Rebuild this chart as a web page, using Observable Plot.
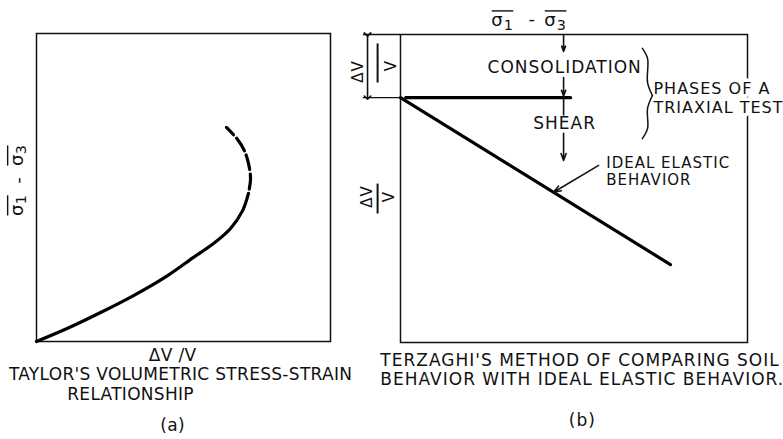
<!DOCTYPE html>
<html>
<head>
<meta charset="utf-8">
<script src="https://cdn.jsdelivr.net/npm/d3@7"></script>
<script src="https://cdn.jsdelivr.net/npm/@observablehq/plot@0.6"></script>
<style>
  body { margin: 0; background: #fff; }
  #fig { position: relative; width: 783px; height: 439px; background: #fff; overflow: hidden; }
  #fig svg { position: absolute; top: 0; }
</style>
</head>
<body>
<div id="fig"></div>
<script>
// (a) Taylor: deviator stress against volumetric strain, in relative units
const taylorStrain = [0, 0.104, 0.218, 0.330, 0.446, 0.534, 0.602, 0.660, 0.701, 0.721];
const taylorStress = [0, 0.042, 0.094, 0.149, 0.214, 0.273, 0.318, 0.367, 0.425, 0.481];
// branch past the peak of volume change, drawn dashed
const taylorStrainDashed = [0.721, 0.728, 0.721, 0.707, 0.684, 0.646];
const taylorStressDashed = [0.481, 0.529, 0.578, 0.620, 0.656, 0.695];

// (b) Terzaghi: consolidation phase, then shear with ideal elastic response
const consolidationStrain = 0.205;          // ΔV/V reached at the end of consolidation
const consolidationExtent = [0.015, 0.49];  // σ1 - σ3 span of the consolidation line
const elasticStress = [0, 0.778];
const elasticStrain = [0.205, 0.747];

const ink = "#111";
const font = "DejaVu Sans";
const fig = document.getElementById("fig");

// single text label placed in data units
const label = (t, x, y, opts = {}) =>
  Plot.text([{t, x, y}], {x: "x", y: "y", text: "t", fill: ink, fontFamily: font, fontSize: 17, ...opts});

// effective stresses: σ with a lowered index ...
function sigmaIndices(svg) {
  d3.select(svg).selectAll("text").each(function () {
    const m = /^σ(\d)$/.exec(this.textContent);
    if (!m) return;
    const t = d3.select(this).text("σ").classed("sigma", true);
    t.append("tspan").attr("dy", "0.22em").attr("font-size", "0.8em").text(m[1]);
  });
  return svg;
}
// ... and a bar over the whole symbol (needs the text laid out first)
function sigmaBars(svg) {
  d3.select(svg).selectAll("text.sigma").each(function () {
    const b = this.getBBox();
    d3.select(this.parentNode).append("line")
      .attr("transform", this.getAttribute("transform"))
      .attr("x1", b.x + 0.5).attr("x2", b.x + b.width - 0.5)
      .attr("y1", b.y + 1.5).attr("y2", b.y + 1.5)
      .attr("stroke", ink).attr("stroke-width", 1.4);
  });
}

const plotA = Plot.plot({
  width: 356, height: 439,
  marginLeft: 36, marginRight: 26, marginTop: 33, marginBottom: 98,
  x: {domain: [0, 1], axis: null},
  y: {domain: [0, 1], axis: null},
  style: {background: "transparent", fontFamily: font, letterSpacing: "0.3px"},
  marks: [
    Plot.frame({stroke: ink, strokeWidth: 1.5}),
    Plot.line(d3.zip(taylorStrain, taylorStress), {
      x: d => d[0], y: d => d[1], curve: "catmull-rom", stroke: "#000", strokeWidth: 3.2
    }),
    Plot.line(d3.zip(taylorStrainDashed, taylorStressDashed), {
      x: d => d[0], y: d => d[1], curve: "catmull-rom", stroke: "#000", strokeWidth: 3.2,
      strokeDasharray: "15,4.5", strokeDashoffset: 15
    }),
    label("σ1", -0.065, 0.442, {rotate: -90, fontSize: 18}),
    label("-", -0.062, 0.523, {rotate: -90, fontSize: 18}),
    label("σ3", -0.065, 0.604, {rotate: -90, fontSize: 18}),
    label("ΔV /V", 0.463, -0.045),
    label("TAYLOR'S VOLUMETRIC STRESS-STRAIN", 0.49, -0.107),
    label("RELATIONSHIP", 0.32, -0.172),
    label("(a)", 0.463, -0.273)
  ]
});

const plotB = Plot.plot({
  width: 443, height: 439,
  marginLeft: 60, marginRight: 36, marginTop: 34, marginBottom: 97,
  x: {domain: [0, 1], axis: null},
  y: {domain: [0, 1], reverse: true, axis: null},
  style: {background: "transparent", fontFamily: font, letterSpacing: "1px"},
  marks: [
    Plot.frame({stroke: ink, strokeWidth: 1.5}),
    // extension lines bounding the consolidation strain
    Plot.ruleY([0, consolidationStrain], {x1: -0.107, x2: 0, stroke: ink, strokeWidth: 1.3}),
    Plot.link([{y1: 0, y2: consolidationStrain}], {
      x1: -0.095, x2: -0.095, y1: "y1", y2: "y2", stroke: ink, strokeWidth: 1.6,
      markerStart: "arrow", markerEnd: "arrow"
    }),
    Plot.line(consolidationExtent.map(x => [x, consolidationStrain]), {
      x: d => d[0], y: d => d[1], stroke: "#000", strokeWidth: 3.2
    }),
    Plot.line(d3.zip(elasticStress, elasticStrain), {
      x: d => d[0], y: d => d[1], stroke: "#000", strokeWidth: 3.2
    }),
    // loading sequence arrows
    Plot.arrow([{y1: 0, y2: 0.055}, {y1: 0.14, y2: 0.2}, {y1: 0.321, y2: 0.409}], {
      x1: 0.47, x2: 0.47, y1: "y1", y2: "y2", stroke: ink, strokeWidth: 1.6, headLength: 7, headAngle: 40
    }),
    Plot.link([{y1: 0.2, y2: 0.263}], {x1: 0.47, x2: 0.47, y1: "y1", y2: "y2", stroke: ink, strokeWidth: 1.6}),
    // pointer to the elastic line
    Plot.arrow([{x1: 0.571, y1: 0.425, x2: 0.441,
                 y2: elasticStrain[0] + (elasticStrain[1] - elasticStrain[0]) * 0.441 / elasticStress[1]}], {
      x1: "x1", y1: "y1", x2: "x2", y2: "y2", stroke: ink, strokeWidth: 1.5, headLength: 8, headAngle: 40
    }),
    // axis labels
    label("σ1", 0.294, -0.045, {fontSize: 18}),
    label("-", 0.380, -0.048, {fontSize: 18}),
    label("σ3", 0.447, -0.045, {fontSize: 18}),
    label("ΔV", -0.121, 0.120, {rotate: -90, fontSize: 15}),
    label("V", -0.026, 0.101, {rotate: -90, fontSize: 15}),
    Plot.link([{y1: 0.029, y2: 0.156}, {y1: 0.484, y2: 0.581}], {
      x1: -0.066, x2: -0.066, y1: "y1", y2: "y2", stroke: ink, strokeWidth: 2
    }),
    label("ΔV", -0.095, 0.526, {rotate: -90, fontSize: 15}),
    label("V", -0.032, 0.526, {rotate: -90, fontSize: 15}),
    // annotations
    label("CONSOLIDATION", 0.473, 0.107),
    label("SHEAR", 0.473, 0.289),
    label("PHASES OF A", 0.729, 0.175, {textAnchor: "start", fontSize: 16, stroke: "white", strokeWidth: 7}),
    label("TRIAXIAL TEST", 0.729, 0.237, {textAnchor: "start", fontSize: 16, stroke: "white", strokeWidth: 7}),
    label("IDEAL ELASTIC", 0.593, 0.419, {textAnchor: "start", fontSize: 15}),
    label("BEHAVIOR", 0.593, 0.474, {textAnchor: "start", fontSize: 15}),
    label("TERZAGHI'S METHOD OF COMPARING SOIL", -0.058, 1.058, {textAnchor: "start"}),
    label("BEHAVIOR WITH IDEAL ELASTIC BEHAVIOR.", -0.058, 1.119, {textAnchor: "start"}),
    label("(b)", 0.524, 1.253),
    // brace grouping the two phases
    Plot.line([
      [0.697, 0.045, 0], [0.712, 0.078, 0], [0.712, 0.156, 0], [0.726, 0.198, 0],
      [0.726, 0.198, 1], [0.712, 0.240, 1], [0.712, 0.305, 1], [0.697, 0.338, 1]
    ], {x: d => d[0], y: d => d[1], z: d => d[2], curve: "catmull-rom", stroke: ink, strokeWidth: 1.5})
  ]
});

plotA.style.left = "0px";
plotB.style.left = "340px";
fig.append(sigmaIndices(plotA), sigmaIndices(plotB));
sigmaBars(plotA);
sigmaBars(plotB);
</script>
</body>
</html>
